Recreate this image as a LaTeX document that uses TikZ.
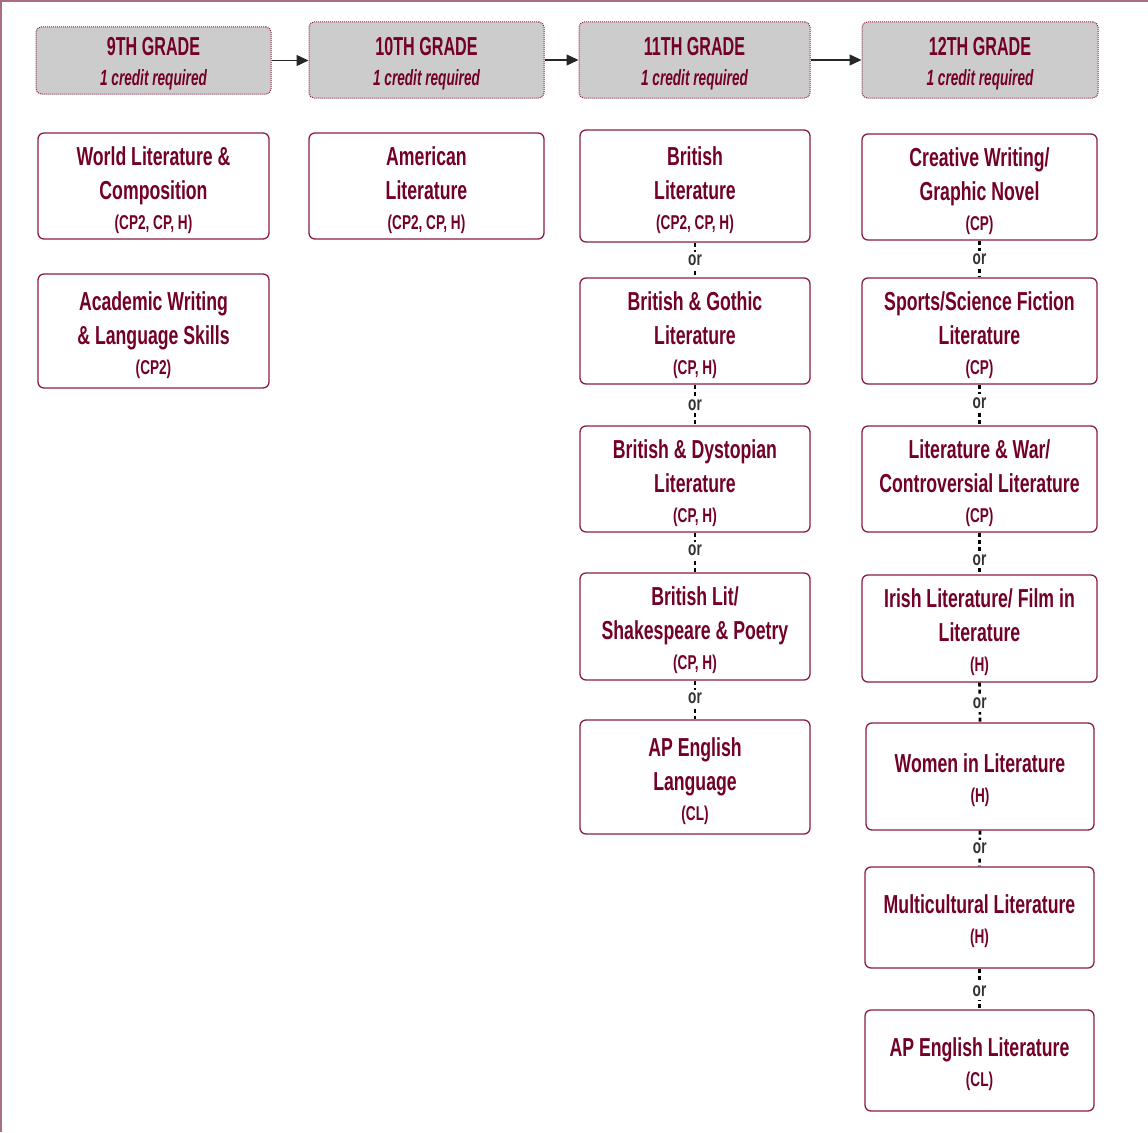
\documentclass[tikz,border=0pt]{standalone}
\usepackage{fontspec}
\usetikzlibrary{arrows.meta}
\newfontfamily\cond[FakeStretch=0.68]{Liberation Sans}
\newfontfamily\condh[FakeStretch=0.62]{Liberation Sans}
\newfontfamily\condi[FakeStretch=0.62]{Liberation Sans}
\definecolor{maroon}{RGB}{115,0,38}
\definecolor{boxline}{RGB}{140,30,60}
\definecolor{frameline}{RGB}{170,110,125}
\definecolor{hdrfill}{RGB}{204,204,204}
\definecolor{orgray}{RGB}{50,50,50}
\tikzset{
  hdr/.style={draw=boxline, densely dotted, line width=1pt, fill=hdrfill, rounded corners=5pt,
    inner sep=0pt, align=center, text=maroon, minimum width=235pt, minimum height=76pt,
    font=\fontsize{26}{31}\selectfont},
  course/.style={draw=boxline, line width=1.3pt, rounded corners=6pt, fill=white,
    inner sep=0pt, align=center, text=maroon, minimum width=231pt, minimum height=106pt,
    font=\cond\bfseries\fontsize{26}{34}\selectfont},
  col3/.style={minimum width=230pt},
  col4/.style={minimum width=235pt},
  orline/.style={draw=black, line width=2.6pt, dash pattern=on 4pt off 3pt},
  orlbl/.style={fill=white, inner xsep=3pt, inner ysep=3pt, text=orgray, font=\cond\bfseries\fontsize{20}{22}\selectfont},
  gradearrow/.style={draw=black!85, line width=1.3pt, -{Triangle[length=12pt,width=11pt]}}
}
\newcommand{\tp}{\rule{0pt}{26.5pt}}
\newcommand{\hdrtext}[1]{{\condh\bfseries\rule{0pt}{25pt}#1}\\[-1pt]{\condi\bfseries\itshape\fontsize{22}{31}\selectfont 1 credit required}}
\newcommand{\lvl}[1]{\\[-4pt]{\fontsize{20}{24}\selectfont #1}}
\begin{document}
\begin{tikzpicture}[x=1pt,y=-1pt]
\useasboundingbox (0,0) rectangle (1148,1132);
\draw[frameline, line width=1.5pt] (0,1) -- (1148,1);
\draw[frameline, line width=1.5pt] (1,0) -- (1,1132);
% headers
\node[hdr, minimum height=67pt] (g9) at (153.5,60.5) {\hdrtext{9TH GRADE}};
\node[hdr] (g10) at (426.5,60) {\hdrtext{10TH GRADE}};
\node[hdr, minimum width=231pt] (g11) at (694.5,60) {\hdrtext{11TH GRADE}};
\node[hdr, minimum width=236pt] (g12) at (980,60) {\hdrtext{12TH GRADE}};
\draw[gradearrow] (g9.east) -- (g9.east -| g10.west);
\draw[gradearrow] (g10.east) -- (g11.west);
\draw[gradearrow] (g11.east) -- (g12.west);
% column 1
\node[course] (wl) at (153.5,186) {\tp World Literature \&\\Composition\lvl{(CP2, CP, H)}};
\node[course, minimum height=114pt] (aw) at (153.5,331) {\tp Academic Writing\\\& Language Skills\lvl{(CP2)}};
% column 2
\node[course, minimum width=235pt] (am) at (426.5,186) {\tp American\\Literature\lvl{(CP2, CP, H)}};
% column 3
\node[course, col3, minimum height=112pt] (bl) at (695,186) {\tp British\\Literature\lvl{(CP2, CP, H)}};
\node[course, col3] (bg) at (695,331) {\tp British \& Gothic\\Literature\lvl{(CP, H)}};
\node[course, col3] (bd) at (695,479) {\tp British \& Dystopian\\Literature\lvl{(CP, H)}};
\node[course, col3, minimum height=107pt] (bs) at (695,626.5) {\tp British Lit/\\Shakespeare \& Poetry\lvl{(CP, H)}};
\node[course, col3, minimum height=114pt] (apl) at (695,777) {\tp AP English\\Language\lvl{(CL)}};
\draw[orline] (bl.south) -- node[orlbl]{or} (bg.north);
\draw[orline] (bg.south) -- node[orlbl]{or} (bd.north);
\draw[orline] (bd.south) -- node[orlbl, pos=0.45]{or} (bs.north);
\draw[orline] (bs.south) -- node[orlbl, pos=0.45]{or} (apl.north);
% column 4
\node[course, col4] (cw) at (979.5,187) {\tp Creative Writing/\\Graphic Novel\lvl{(CP)}};
\node[course, col4] (ss) at (979.5,331) {\tp Sports/Science Fiction\\Literature\lvl{(CP)}};
\node[course, col4] (lw) at (979.5,479) {\tp Literature \& War/\\Controversial Literature\lvl{(CP)}};
\node[course, col4, minimum height=107pt] (ir) at (979.5,628.5) {\tp Irish Literature/ Film in\\Literature\lvl{(H)}};
\node[course, minimum width=228pt, minimum height=107pt] (wo) at (980,776.5) {\tp Women in Literature\lvl{(H)}};
\node[course, minimum width=229pt, minimum height=101pt] (mc) at (979.5,917.5) {\tp Multicultural Literature\lvl{(H)}};
\node[course, minimum width=229pt, minimum height=101pt] (apt) at (979.5,1060.5) {\tp AP English Literature\lvl{(CL)}};
\draw[orline] (cw.south) -- node[orlbl]{or} (ss.north);
\draw[orline] (ss.south) -- node[orlbl, pos=0.45]{or} (lw.north);
\draw[orline] (lw.south) -- node[orlbl, pos=0.65]{or} (ir.north);
\draw[orline] (ir.south) -- node[orlbl, pos=0.52]{or} (wo.north);
\draw[orline] (wo.south) -- node[orlbl]{or} (mc.north);
\draw[orline] (mc.south) -- node[orlbl, pos=0.55]{or} (apt.north);
\end{tikzpicture}
\end{document}
